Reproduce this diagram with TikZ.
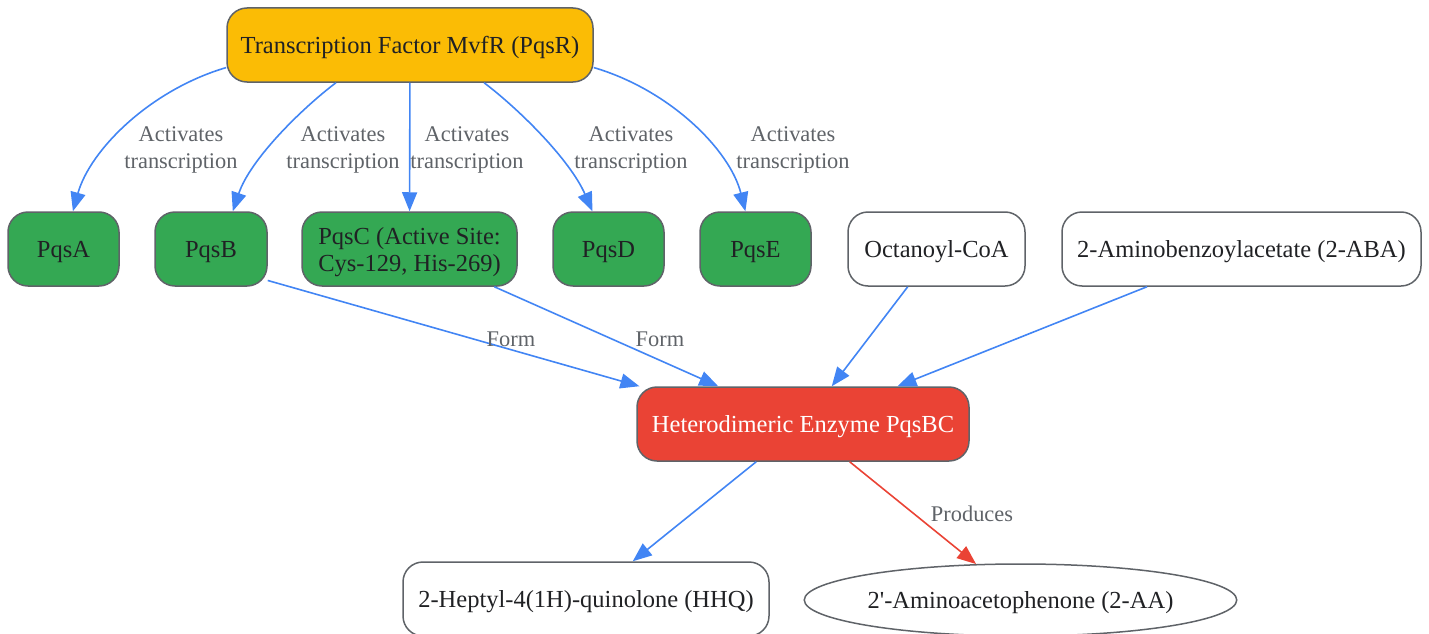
\documentclass[tikz,border=0pt]{standalone}
\usepackage{fontspec}
\setmainfont{Liberation Serif}[Ligatures=TeXOff]
\usetikzlibrary{arrows.meta,shapes.geometric}
\definecolor{gyellow}{HTML}{FBBC05}
\definecolor{ggreen}{HTML}{34A853}
\definecolor{gred}{HTML}{EA4335}
\definecolor{gblue}{HTML}{4285F4}
\definecolor{bordergray}{HTML}{5F6368}
\definecolor{lblgray}{HTML}{5F6368}
\definecolor{txt}{HTML}{202124}
\begin{document}
\begin{tikzpicture}[x=1pt,y=-1pt,
    box/.style={draw=bordergray,line width=1.5pt,rounded corners=20pt,
      minimum height=74pt,inner sep=0pt,align=center,text=txt,text depth=0pt,
      font=\fontsize{24.5}{27}\selectfont},
    gbox/.style={box,fill=ggreen},
    ell/.style={draw=bordergray,line width=1.5pt,ellipse,inner sep=0pt,
      text=txt,text depth=0pt,font=\fontsize{24.5}{27}\selectfont},
    lbl/.style={text=lblgray,align=center,inner sep=0pt,
      font=\fontsize{22.4}{27}\selectfont},
    arr/.style={draw=gblue,line width=1.6pt,-{Triangle[length=19pt,width=15pt]}}]
        \useasboundingbox (0,0) rectangle (1429,634);

        % top regulator
        \node[box,fill=gyellow,minimum width=366pt] (mvfr) at (410,45)
          {Transcription Factor MvfR (PqsR)};

        % pqs genes
        \node[gbox,minimum width=111pt] (pqsa) at (63.5,249) {PqsA};
        \node[gbox,minimum width=112pt] (pqsb) at (211,249) {PqsB};
        \node[gbox,minimum width=215pt,align=left] (pqsc) at (409.5,249)
          {PqsC (Active Site:\\Cys-129, His-269)};
        \node[gbox,minimum width=111pt] (pqsd) at (608.5,249) {PqsD};
        \node[gbox,minimum width=111pt] (pqse) at (755.5,249) {PqsE};

        % substrates
        \node[box,minimum width=177pt] (octcoa) at (936.5,249) {Octanoyl-CoA};
        \node[box,minimum width=359pt] (aba) at (1241.5,249)
          {2-Aminobenzoylacetate (2-ABA)};

        % enzyme and products
        \node[box,fill=gred,text=white,minimum width=332pt] (pqsbc) at (803,424)
          {Heterodimeric Enzyme PqsBC};
        \node[box,minimum width=366pt] (hhq) at (586,599)
          {2-Heptyl-4(1H)-quinolone (HHQ)};
        \node[ell,minimum width=429pt,minimum height=72pt] (aa) at (1020.5,600)
          {2'-Aminoacetophenone (2-AA)};

        % transcription
        \draw[arr] (mvfr.187) .. controls (150,90) and (90,150) .. (pqsa.76);
        \draw[arr] (mvfr.207) .. controls (300,110) and (250,160) .. (pqsb.60);
        \draw[arr] (mvfr) -- (pqsc);
        \draw[arr] (mvfr.333) .. controls (520,110) and (570,160) .. (pqsd.113);
        \draw[arr] (mvfr.353) .. controls (670,90) and (730,150) .. (pqse.105);
        \node[lbl] (actA) at (181,150) {Activates\\transcription};
        \node[lbl] (actB) at (343,150) {Activates\\transcription};
        \node[lbl] (actC) at (467,150) {Activates\\transcription};
        \node[lbl] (actD) at (631,150) {Activates\\transcription};
        \node[lbl] (actE) at (793,150) {Activates\\transcription};

        % enzyme formation
        \draw[arr] (pqsb.331) -- (pqsbc.167);
        \draw[arr] (pqsc) -- (pqsbc);
        \draw[arr] (octcoa) -- (pqsbc);
        \draw[arr] (aba) -- (pqsbc);
        \node[lbl] (formB) at (511,339) {Form};
        \node[lbl] (formC) at (660,339) {Form};

        % products
        \draw[arr] (pqsbc) -- (hhq);
        \draw[arr,draw=gred] (pqsbc) -- (aa);
        \node[lbl] (prod) at (972,514) {Produces};
      \end{tikzpicture}
\end{document}
